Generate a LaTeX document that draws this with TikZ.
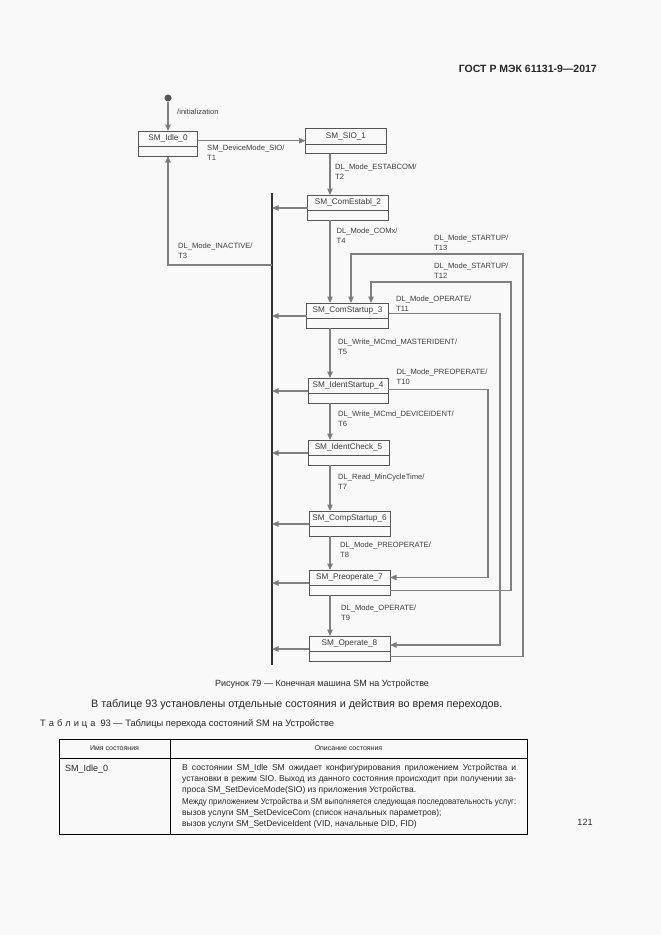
\documentclass[tikz,border=0pt]{standalone}
\usepackage{fontspec}
\usepackage{graphicx}
\setmainfont{Liberation Sans}
\usetikzlibrary{arrows.meta,calc}
\definecolor{pagebg}{HTML}{F9F9F9}
\definecolor{lncol}{HTML}{808080}
\definecolor{bxcol}{HTML}{555555}
\definecolor{txcol}{HTML}{3C3C3C}
\newcommand\mkstate[5]{%
  \node[stateup, minimum width=#5pt] (#1) at (#2,#3+7.75) {#4};
  \draw[lowbox] (#1.south west) rectangle ($(#1.south east)+(0,9.5)$);
  \coordinate (#1lo) at ($(#1.south east)+(0,4.75)$);
  \coordinate (#1bot) at ($(#1.south)+(0,9.5)$);
}
\newcommand\jline[1]{\makebox[334pt][s]{#1}}
\newcommand\fitline[1]{\resizebox{334pt}{\height}{#1}}
\begin{document}
\begin{tikzpicture}[x=1pt,y=-1pt,
  conn/.style={draw=lncol, line width=1.1pt, -{Triangle[length=6.5pt,width=5.5pt,fill=lncol!90!black]}},
  link/.style={draw=lncol, line width=1.1pt},
  stateup/.style={draw=bxcol, line width=0.9pt, minimum height=15.5pt, inner sep=0pt, outer sep=0pt, font=\fontsize{8.2}{9}\selectfont, text=txcol},
  lowbox/.style={draw=bxcol, line width=0.9pt},
  lbl/.style={anchor=base west, align=left, inner sep=0pt, font=\fontsize{7.6}{10}\selectfont, text=txcol},
  pagetxt/.style={inner sep=0pt, text=black!85},
  tbl/.style={draw=black, line width=1pt},
]
\fill[pagebg] (0,0) rectangle (661,935);
\useasboundingbox (0,0) rectangle (661,935);

% page header
\node[pagetxt, anchor=base east, font=\bfseries\fontsize{10.5}{12}\selectfont] (hdr) at (597,72) {ГОСТ Р МЭК 61131-9—2017};

% states
\mkstate{s0}{168}{131}{SM\_Idle\_0}{59}
\mkstate{s1}{346}{128.5}{SM\_SIO\_1}{81}
\mkstate{s2}{348}{195}{SM\_ComEstabl\_2}{81}
\mkstate{s3}{347.5}{303}{SM\_ComStartup\_3}{82}
\mkstate{s4}{348}{378}{SM\_IdentStartup\_4}{80}
\mkstate{s5}{348.5}{440}{SM\_IdentCheck\_5}{81}
\mkstate{s6}{349.5}{511}{SM\_CompStartup\_6}{81}
\mkstate{s7}{349.5}{570}{SM\_Preoperate\_7}{81}
\mkstate{s8}{349.5}{636}{SM\_Operate\_8}{81}

% helper coordinates
\coordinate (trunk) at (330,0);
\coordinate (bartop) at (272,193);
\coordinate (barbot) at (272,665);
\coordinate (bar3) at (272,265);
\coordinate (r13) at (523,254);
\coordinate (e13) at (351,254);
\coordinate (r12) at (511,282);
\coordinate (e12) at (371,282);
\coordinate (r11) at (500,645);
\coordinate (r10) at (488,577.5);

% initial
\node[circle, fill=bxcol, minimum size=7pt, inner sep=0pt] (init) at (168,98) {};
\draw[conn] (init) -- (s0.north);
\node[lbl] (linit) at (177,114.5) {/initialization};

% bar
\draw[line width=2pt, draw=black!80] (bartop) -- (barbot);

% T1
\draw[conn] ([yshift=-2pt]s0.east) coordinate (t1a) -- (t1a -| s1.west);
% T2
\draw[conn] (s1bot -| trunk) -- (s2.north -| trunk);
% T4
\draw[conn] (s2bot -| trunk) -- (s3.north -| trunk);
% T5
\draw[conn] (s3bot -| trunk) -- (s4.north -| trunk);
% T6
\draw[conn] (s4bot -| trunk) -- (s5.north -| trunk);
% T7
\draw[conn] (s5bot -| trunk) -- (s6.north -| trunk);
% T8
\draw[conn] (s6bot -| trunk) -- (s7.north -| trunk);
% T9
\draw[conn] (s7bot -| trunk) -- (s8.north -| trunk);
% T3
\draw[conn] (bar3) -| (s0bot);
% T13
\draw[conn] (s8lo) -| (r13) -- (e13) -- (e13 |- s3.north);
% T12
\draw[conn] (s7lo) -| (r12) -- (e12) -- (e12 |- s3.north);
% T11
\draw[conn] ([yshift=-2.5pt]s3.east) -| (r11) -- (r11 -| s8.east);
% T10
\draw[conn] ([yshift=-4pt]s4.east) -| (r10) -- (r10 -| s7.east);
% to bar
\foreach \s in {s2,s3,s4,s5,s6,s7,s8}{
  \draw[conn] ([yshift=2.5pt]\s.south west) coordinate (l\s) -- (l\s -| bartop);
}

% labels (base = baseline of the second line)
\node[lbl] (lt1) at (207,160.8) {SM\_DeviceMode\_SIO/\\T1};
\node[lbl] (lt2) at (335,179.5) {DL\_Mode\_ESTABCOM/\\T2};
\node[lbl] (lt3) at (178,258) {DL\_Mode\_INACTIVE/\\T3};
\node[lbl] (lt4) at (336.5,243.5) {DL\_Mode\_COMx/\\T4};
\node[lbl] (lt13) at (434,250) {DL\_Mode\_STARTUP/\\T13};
\node[lbl] (lt12) at (434,278) {DL\_Mode\_STARTUP/\\T12};
\node[lbl] (lt11) at (396,311.3) {DL\_Mode\_OPERATE/\\T11};
\node[lbl] (lt5) at (338,354.5) {DL\_Write\_MCmd\_MASTERIDENT/\\T5};
\node[lbl] (lt10) at (396.5,384.5) {DL\_Mode\_PREOPERATE/\\T10};
\node[lbl] (lt6) at (338,426.8) {DL\_Write\_MCmd\_DEVICEIDENT/\\T6};
\node[lbl] (lt7) at (338,489.5) {DL\_Read\_MinCycleTime/\\T7};
\node[lbl] (lt8) at (340,557.8) {DL\_Mode\_PREOPERATE/\\T8};
\node[lbl] (lt9) at (341,620.5) {DL\_Mode\_OPERATE/\\T9};

% caption and text
\node[pagetxt, anchor=base, font=\fontsize{9}{11}\selectfont] (cap) at (322,686.5) {Рисунок 79 — Конечная машина SM на Устройстве};
\node[pagetxt, anchor=base west, font=\fontsize{10.8}{12}\selectfont] (par) at (91,707) {В таблице 93 установлены отдельные состояния и действия во время переходов.};
\node[pagetxt, anchor=base west, font=\fontsize{9.3}{11}\selectfont] (ttl) at (40,726.5) {Т\kern3pt а\kern3pt б\kern3pt л\kern3pt и\kern3pt ц\kern3pt а\kern5pt 93 — Таблицы перехода состояний SM на Устройстве};

% table
\draw[tbl] (59,739) rectangle (527,834);
\draw[tbl] (59,758) -- (527,758);
\draw[tbl] (170,739) -- (170,834);
\node[pagetxt, font=\fontsize{7}{8}\selectfont] (h1) at (114.5,748.5) {Имя состояния};
\node[pagetxt, font=\fontsize{7}{8}\selectfont] (h2) at (348.5,748.5) {Описание состояния};
\node[pagetxt, anchor=base west, font=\fontsize{9}{11}\selectfont] (r1) at (65,771) {SM\_Idle\_0};
\begin{scope}[every node/.style={pagetxt, anchor=base west, font=\fontsize{8.5}{10}\selectfont}]
\node (d1) at (182,770.5) {\jline{В состоянии SM\_Idle SM ожидает конфигурирования приложением Устройства и}};
\node (d2) at (182,781.7) {\jline{установки в режим SIO. Выход из данного состояния происходит при получении за-}};
\node (d3) at (182,792.9) {проса SM\_SetDeviceMode(SIO) из приложения Устройства.};
\node (d4) at (182,804.1) {\fitline{Между приложением Устройства и SM выполняется следующая последовательность услуг:}};
\node (d5) at (182,815.3) {вызов услуги SM\_SetDeviceCom (список начальных параметров);};
\node (d6) at (182,826.5) {вызов услуги SM\_SetDeviceIdent (VID, начальные DID, FID)};
\end{scope}
\node[pagetxt, anchor=base, font=\fontsize{9}{11}\selectfont] (pg) at (585,825) {121};
\end{tikzpicture}
\end{document}
